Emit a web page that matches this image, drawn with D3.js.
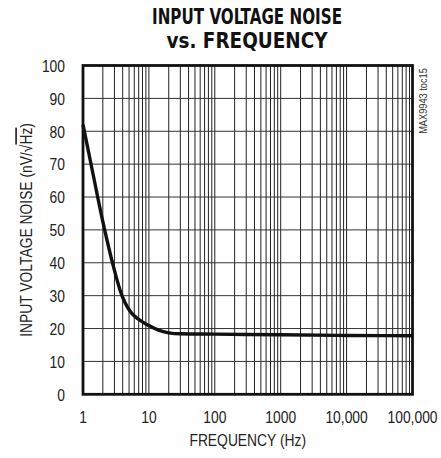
<!DOCTYPE html>
<html><head><meta charset="utf-8">
<script src="https://cdn.jsdelivr.net/npm/d3@7"></script>
<style>html,body{margin:0;padding:0;background:#fff;}svg{display:block;}</style>
</head><body>
<script>
const freqs = [1, 1.4, 2, 2.8, 3.9, 4.7, 5.5, 7, 10, 14, 20, 30, 100, 1000, 10000, 100000];
const noise = [82, 67.6, 52.5, 40, 30, 26.6, 24.6, 22.8, 20.9, 19.5, 18.7, 18.4, 18.3, 18.1, 17.9, 17.8];
const xTicks = [1, 10, 100, 1000, 10000, 100000];
const xTickLabels = ["1", "10", "100", "1000", "10,000", "100,000"];
const yTicks = [0, 10, 20, 30, 40, 50, 60, 70, 80, 90, 100];

const W = 441, H = 458;
const L = 83, R = 412.5, T = 65.5, B = 394.3;
const SX = 0.84;
const svg = d3.select("body").append("svg").attr("width", W).attr("height", H);
const x = d3.scaleLog().domain([1, 100000]).range([L, R]);
const y = d3.scaleLinear().domain([0, 100]).range([B, T]);
const font = "'Liberation Sans', Arial, sans-serif";

// minor + major vertical grid
const vGrid = [];
for (let d = 0; d < 5; d++) for (let m = 1; m <= 9; m++) vGrid.push(m * Math.pow(10, d));
vGrid.push(100000);
svg.append("g").selectAll("line").data(vGrid).join("line")
  .attr("x1", d => x(d)).attr("x2", d => x(d)).attr("y1", T).attr("y2", B)
  .attr("stroke", "#222").attr("stroke-width", 1);
svg.append("g").selectAll("line").data(yTicks).join("line")
  .attr("x1", L).attr("x2", R).attr("y1", d => y(d)).attr("y2", d => y(d))
  .attr("stroke", "#333").attr("stroke-width", 1);

// frame
svg.append("rect").attr("x", L).attr("y", T).attr("width", R - L).attr("height", B - T)
  .attr("fill", "none").attr("stroke", "#111").attr("stroke-width", 2.8);

// curve
const line = d3.line().x((d, i) => x(freqs[i])).y(d => y(d)).curve(d3.curveMonotoneX);
svg.append("path").datum(noise).attr("d", line).attr("fill", "none")
  .attr("stroke", "#111").attr("stroke-width", 3.4).attr("stroke-linejoin", "round");

function label(px, py, str, anchor, size, rot) {
  const g = svg.append("g").attr("transform", `translate(${px},${py}) rotate(${rot || 0}) scale(${SX},1)`);
  return g.append("text").attr("text-anchor", anchor).attr("font-family", font)
    .attr("font-size", size).attr("fill", "#222").text(str);
}

// y tick labels
yTicks.forEach(d => label(65, y(d) + 6.3, d, "end", 16.5));
// x tick labels
xTicks.forEach((d, i) => label(x(d), 422.7, xTickLabels[i], "middle", 16.5));

// axis titles
label((L + R) / 2, 446, "FREQUENCY (Hz)", "middle", 16.5);
const yt = label(31.5, (T + B) / 2, "", "middle", 16.5, -90);
yt.append("tspan").text("INPUT VOLTAGE NOISE (nV/√");
yt.append("tspan").style("text-decoration", "overline").text("Hz");
yt.append("tspan").text(")");

// title
const tfont = "'DejaVu Sans Condensed', 'Liberation Sans', sans-serif";
svg.append("text").attr("x", 247).attr("y", 23.5).attr("text-anchor", "middle")
  .attr("font-family", tfont).attr("font-weight", "bold").attr("font-size", 21.5)
  .attr("textLength", 190).attr("lengthAdjust", "spacingAndGlyphs").attr("fill", "#111")
  .text("INPUT VOLTAGE NOISE");
svg.append("text").attr("x", 247).attr("y", 48.3).attr("text-anchor", "middle")
  .attr("font-family", tfont).attr("font-weight", "bold").attr("font-size", 21.5)
  .attr("textLength", 161).attr("lengthAdjust", "spacingAndGlyphs").attr("fill", "#111")
  .text("vs. FREQUENCY");

// side code
label(427, 101, "MAX9943 toc15", "middle", 11, -90).attr("fill", "#333");
</script>
</body></html>
